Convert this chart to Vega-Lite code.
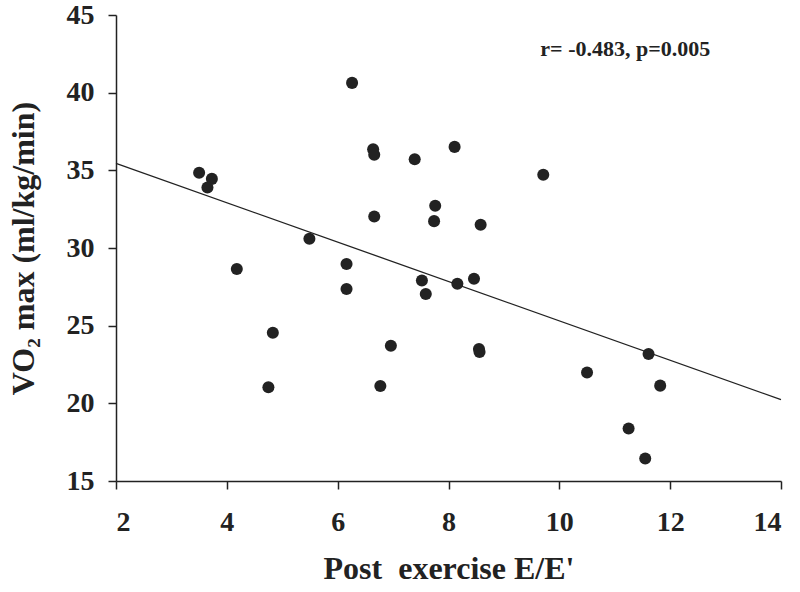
{
  "$schema": "https://vega.github.io/schema/vega-lite/v6.json",
  "width": 665,
  "height": 466,
  "autosize": {"type": "none"},
  "padding": {"left": 116, "top": 15, "right": 19, "bottom": 111},
  "background": "white",
  "config": {
    "font": "Liberation Serif",
    "view": {"stroke": null},
    "axis": {
      "grid": false,
      "domainColor": "#222",
      "domainWidth": 1.5,
      "tickColor": "#222",
      "tickWidth": 1.5,
      "tickSize": 8,
      "labelFont": "Liberation Serif",
      "labelFontWeight": "bold",
      "labelFontSize": 28,
      "labelColor": "#222",
      "titleFont": "Liberation Serif",
      "titleFontWeight": "bold",
      "titleColor": "#222"
    }
  },
  "datasets": {
    "points": [
      {"ee": 3.50, "vo2": 34.84},
      {"ee": 3.73, "vo2": 34.45},
      {"ee": 3.65, "vo2": 33.90},
      {"ee": 4.18, "vo2": 28.65},
      {"ee": 5.49, "vo2": 30.60},
      {"ee": 6.26, "vo2": 40.63},
      {"ee": 6.64, "vo2": 36.36},
      {"ee": 6.66, "vo2": 36.00},
      {"ee": 6.66, "vo2": 32.03},
      {"ee": 6.16, "vo2": 28.97},
      {"ee": 6.16, "vo2": 27.36},
      {"ee": 4.83, "vo2": 24.55},
      {"ee": 4.75, "vo2": 21.03},
      {"ee": 6.77, "vo2": 21.12},
      {"ee": 6.96, "vo2": 23.71},
      {"ee": 7.39, "vo2": 35.72},
      {"ee": 8.11, "vo2": 36.51},
      {"ee": 9.71, "vo2": 34.71},
      {"ee": 7.76, "vo2": 32.72},
      {"ee": 7.74, "vo2": 31.73},
      {"ee": 8.58, "vo2": 31.50},
      {"ee": 7.52, "vo2": 27.91},
      {"ee": 8.16, "vo2": 27.70},
      {"ee": 8.46, "vo2": 28.02},
      {"ee": 7.59, "vo2": 27.04},
      {"ee": 8.55, "vo2": 23.50},
      {"ee": 8.56, "vo2": 23.30},
      {"ee": 11.61, "vo2": 23.18},
      {"ee": 10.50, "vo2": 21.98},
      {"ee": 11.82, "vo2": 21.14},
      {"ee": 11.25, "vo2": 18.38},
      {"ee": 11.55, "vo2": 16.45}
    ],
    "fit": [
      {"ee": 2, "vo2": 35.45},
      {"ee": 14, "vo2": 20.24}
    ],
    "note": [
      {"ee": 11.19, "vo2": 42.8, "label": "r= -0.483, p=0.005"}
    ]
  },
  "layer": [
    {
      "data": {"name": "fit"},
      "mark": {"type": "line", "color": "#222", "strokeWidth": 1.3},
      "encoding": {
        "x": {
          "field": "ee", "type": "quantitative",
          "scale": {"domain": [2, 14], "nice": false, "zero": false},
          "axis": {"values": [2, 4, 6, 8, 10, 12, 14], "format": "d", "title": "Post\u00a0 exercise E/E'", "titleFontSize": 32, "labelPadding": 19, "titlePadding": 17}
        },
        "y": {
          "field": "vo2", "type": "quantitative",
          "scale": {"domain": [15, 45], "nice": false, "zero": false},
          "axis": {"values": [15, 20, 25, 30, 35, 40, 45], "format": "d", "title": "VO₂ max (ml/kg/min)", "titleFontSize": 32, "labelPadding": 14, "titlePadding": 26}
        }
      }
    },
    {
      "data": {"name": "points"},
      "mark": {"type": "circle", "size": 145, "color": "#222", "opacity": 1},
      "encoding": {
        "x": {"field": "ee", "type": "quantitative"},
        "y": {"field": "vo2", "type": "quantitative"}
      }
    },
    {
      "data": {"name": "note"},
      "mark": {"type": "text", "font": "Liberation Serif", "fontWeight": "bold", "fontSize": 22, "color": "#222", "align": "center", "baseline": "middle"},
      "encoding": {
        "x": {"field": "ee", "type": "quantitative"},
        "y": {"field": "vo2", "type": "quantitative"},
        "text": {"field": "label"}
      }
    }
  ]
}
